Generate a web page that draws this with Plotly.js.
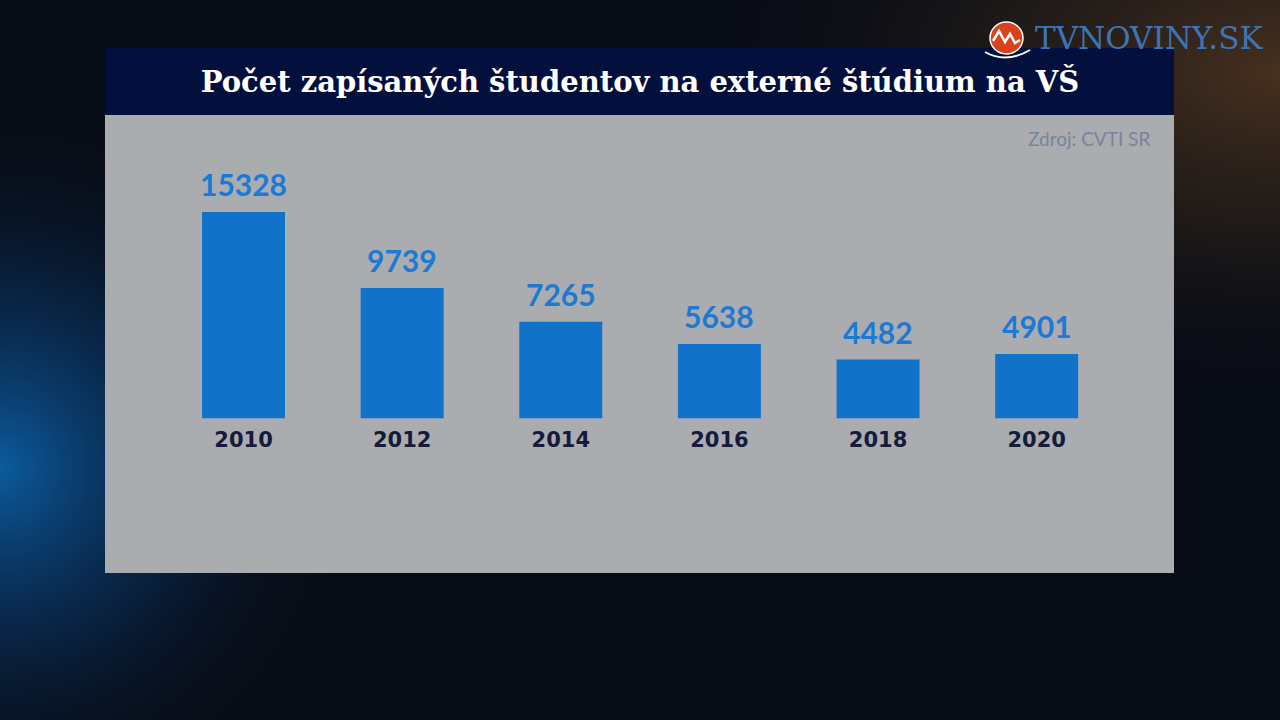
<!DOCTYPE html>
<html>
<head>
<meta charset="utf-8">
<script src="https://cdn.plot.ly/plotly-3.0.1.min.js"></script>
<style>html,body{margin:0;padding:0;background:#070b14;overflow:hidden}#chart{width:1280px;height:720px}</style>
</head>
<body>
<div id="chart"></div>
<script>
// ---- data ----
const years = ['2010', '2012', '2014', '2016', '2018', '2020'];
const students = [15328, 9739, 7265, 5638, 4482, 4901];
const titleText = 'Počet zapísaných študentov na externé štúdium na VŠ';
const sourceText = 'Zdroj: CVTI SR';
const logoText = 'TVNOVINY.SK';

// ---- helpers (pixel -> paper) ----
const W = 1280, H = 720;
const px = x => x / W;
const py = y => 1 - y / H;

const bg = 'data:image/svg+xml;utf8,' + encodeURIComponent(
  '<svg xmlns="http://www.w3.org/2000/svg" width="1280" height="720">' +
  '<defs>' +
  '<radialGradient id="b" cx="0" cy="0.65" r="0.5" gradientTransform="scale(0.55,1)">' +
  '<stop offset="0" stop-color="#0c64ad" stop-opacity="0.9"/>' +
  '<stop offset="0.45" stop-color="#0a3f78" stop-opacity="0.5"/>' +
  '<stop offset="1" stop-color="#06101f" stop-opacity="0"/></radialGradient>' +
  '<radialGradient id="o" cx="1" cy="0.1" r="0.45">' +
  '<stop offset="0" stop-color="#4e3420" stop-opacity="0.9"/>' +
  '<stop offset="0.5" stop-color="#33261a" stop-opacity="0.5"/>' +
  '<stop offset="1" stop-color="#101014" stop-opacity="0"/></radialGradient>' +
  '</defs>' +
  '<rect width="1280" height="720" fill="#080c16"/>' +
  '<rect width="1280" height="720" fill="url(#o)"/>' +
  '<rect width="1280" height="720" fill="url(#b)"/>' +
  '</svg>');

const trace = {
  type: 'bar',
  x: years,
  y: students,
  marker: { color: '#1172c9', line: { width: 0 } },
  hoverinfo: 'none'
};

const annotations = years.map((yr, i) => ({
  x: i, y: students[i], xref: 'x', yref: 'y',
  text: String(students[i]),
  showarrow: false, yanchor: 'bottom', yshift: 8,
  font: { family: 'Lato, sans-serif', size: 30, color: '#1a7ad4', weight: 'bold' }
}));

annotations.push({
  x: px(1152), y: py(138), xref: 'paper', yref: 'paper',
  text: sourceText, showarrow: false, xanchor: 'right', yanchor: 'middle',
  font: { family: 'Lato, sans-serif', size: 19, color: '#76849c' }
});
annotations.push({
  x: px(1033), y: py(38), xref: 'paper', yref: 'paper',
  text: logoText, showarrow: false, xanchor: 'left', yanchor: 'middle',
  font: { family: '"DejaVu Serif", serif', size: 31, color: '#3d74b8' }
});

const shapes = [
  { type: 'rect', xref: 'paper', yref: 'paper', layer: 'below',
    x0: px(105), x1: px(1174), y0: py(573), y1: py(115),
    fillcolor: '#aaacb0', line: { width: 0 } },
  { type: 'rect', xref: 'paper', yref: 'paper', layer: 'below',
    x0: px(105), x1: px(1174), y0: py(115), y1: py(48),
    fillcolor: '#03103e', line: { width: 0 } },
  // logo
  { type: 'circle', xref: 'paper', yref: 'paper',
    x0: px(990), x1: px(1023), y0: py(54), y1: py(22),
    fillcolor: '#d8431e', line: { color: '#ffffff', width: 1.5 } },
  { type: 'path', xref: 'paper', yref: 'paper',
    path: `M ${px(993)} ${py(41)} L ${px(999)} ${py(31)} L ${px(1005)} ${py(42)} L ${px(1010)} ${py(34)} L ${px(1015)} ${py(43)} L ${px(1020)} ${py(40)}`,
    line: { color: '#ffffff', width: 2.5 } },
  { type: 'path', xref: 'paper', yref: 'paper',
    path: `M ${px(985)} ${py(52)} Q ${px(1006)} ${py(64)} ${px(1030)} ${py(50)}`,
    line: { color: '#ffffff', width: 2 } }
];

const layout = {
  width: W, height: H,
  margin: { l: 0, r: 0, t: 0, b: 0 },
  paper_bgcolor: '#080c16',
  plot_bgcolor: 'rgba(0,0,0,0)',
  showlegend: false,
  bargap: 0.477,
  images: [{ source: bg, xref: 'paper', yref: 'paper', x: 0, y: 1,
    sizex: 1, sizey: 1, sizing: 'stretch', layer: 'below', xanchor: 'left', yanchor: 'top' }],
  title: {
    text: titleText, x: 0.5, xanchor: 'center', y: py(82), yref: 'container', yanchor: 'middle',
    font: { family: '"DejaVu Serif", serif', size: 29, color: '#ffffff', weight: 'bold' }
  },
  xaxis: {
    type: 'category', categoryorder: 'array', categoryarray: years,
    domain: [px(164.2), px(1116)], range: [-0.5, 5.5], autorange: false,
    showgrid: false, zeroline: false, showline: false, ticks: '',
    tickfont: { family: '"DejaVu Sans", sans-serif', size: 21, color: '#151b3a', weight: 'bold' },
    ticklabelstandoff: 7,
    fixedrange: true
  },
  yaxis: {
    domain: [py(418.3), py(148.4)], range: [170, 20000], autorange: false,
    visible: false, fixedrange: true
  },
  annotations: annotations,
  shapes: shapes
};

Plotly.newPlot('chart', [trace], layout, { displayModeBar: false, staticPlot: true });
</script>
</body>
</html>
